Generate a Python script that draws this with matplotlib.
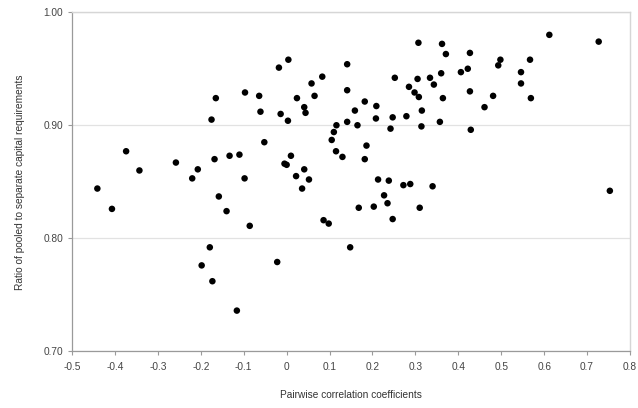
import matplotlib
matplotlib.use("Agg")
import matplotlib.pyplot as plt
from matplotlib.ticker import FuncFormatter

plt.rcParams['font.family'] = ['Liberation Sans', 'DejaVu Sans']

correlation = [
    -0.441, -0.374, -0.343, -0.258, -0.220, -0.207, -0.175, -0.165, -0.168, -0.158,
    -0.133, -0.110, -0.098, -0.097, -0.064, -0.061, -0.052, -0.018, 0.004, -0.014,
    0.003, -0.005, 0.000, 0.010, 0.022, 0.041, 0.052, 0.036, 0.024, 0.041,
    0.044, 0.058, 0.065, 0.083, 0.141, 0.141, 0.182, 0.159, 0.209, 0.208,
    0.141, 0.165, 0.116, 0.110, 0.105, 0.115, 0.130, 0.186, 0.182, 0.213,
    0.238, 0.272, 0.288, 0.340, 0.227, 0.252, 0.247, 0.242, 0.279, 0.285,
    0.298, 0.308, 0.305, 0.307, 0.334, 0.343, 0.315, 0.314, 0.357, 0.362,
    0.371, 0.360, 0.364, 0.406, 0.422, 0.427, 0.427, 0.429, 0.461, 0.481,
    0.493, 0.498, 0.546, 0.546, 0.567, 0.569, 0.612, 0.727, 0.753, -0.407,
    -0.140, -0.086, -0.179, -0.198, -0.173, -0.116, -0.022, 0.086, 0.098, 0.148,
    0.168, 0.203, 0.235, 0.247, 0.310,
]
ratio = [
    0.844, 0.877, 0.860, 0.867, 0.853, 0.861, 0.905, 0.924, 0.870, 0.837,
    0.873, 0.874, 0.853, 0.929, 0.926, 0.912, 0.885, 0.951, 0.958, 0.910,
    0.904, 0.866, 0.865, 0.873, 0.855, 0.861, 0.852, 0.844, 0.924, 0.916,
    0.911, 0.937, 0.926, 0.943, 0.954, 0.931, 0.921, 0.913, 0.917, 0.906,
    0.903, 0.900, 0.900, 0.894, 0.887, 0.877, 0.872, 0.882, 0.870, 0.852,
    0.851, 0.847, 0.848, 0.846, 0.838, 0.942, 0.907, 0.897, 0.908, 0.934,
    0.929, 0.925, 0.941, 0.973, 0.942, 0.936, 0.913, 0.899, 0.903, 0.972,
    0.963, 0.946, 0.924, 0.947, 0.950, 0.964, 0.930, 0.896, 0.916, 0.926,
    0.953, 0.958, 0.947, 0.937, 0.958, 0.924, 0.980, 0.974, 0.842, 0.826,
    0.824, 0.811, 0.792, 0.776, 0.762, 0.736, 0.779, 0.816, 0.813, 0.792,
    0.827, 0.828, 0.831, 0.817, 0.827,
]
x_ticks = [-0.5, -0.4, -0.3, -0.2, -0.1, 0.0, 0.1, 0.2, 0.3, 0.4, 0.5, 0.6, 0.7, 0.8]
y_ticks = [0.70, 0.80, 0.90, 1.00]

fig = plt.figure(figsize=(6.38, 4.08), dpi=100)
ax = fig.add_axes([0.1129, 0.139, 0.8746, 0.831])

ax.scatter(correlation, ratio, s=22, color='black', edgecolors='none', zorder=3)

ax.set_xlim(-0.5, 0.8)
ax.set_ylim(0.70, 1.00)
ax.set_xticks(x_ticks)
ax.set_yticks(y_ticks)

def xfmt(v, pos):
    if abs(v) < 1e-9:
        return "0"
    return f"{v:.1f}"

ax.xaxis.set_major_formatter(FuncFormatter(xfmt))
ax.yaxis.set_major_formatter(FuncFormatter(lambda v, p: f"{v:.2f}"))

ax.grid(axis='y', color='#e2e2e2', linewidth=0.9, zorder=0)
ax.set_axisbelow(True)

for side in ['top', 'right']:
    ax.spines[side].set_color('#d6d6d6')
    ax.spines[side].set_linewidth(1.0)
for side in ['left', 'bottom']:
    ax.spines[side].set_color('#9a9a9a')
    ax.spines[side].set_linewidth(0.9)

ax.tick_params(axis='both', which='major', labelsize=7.3, colors='#9a9a9a',
               labelcolor='#444444', length=3, width=0.8, direction='out')
ax.tick_params(axis='x', pad=5)

ax.set_xlabel("Pairwise correlation coefficients", fontsize=7.3, color='#333333', labelpad=13)
ax.set_ylabel("Ratio of pooled to separate capital requirements", fontsize=7.3, color='#333333', labelpad=13)

fig.savefig("out.png", dpi=100)
